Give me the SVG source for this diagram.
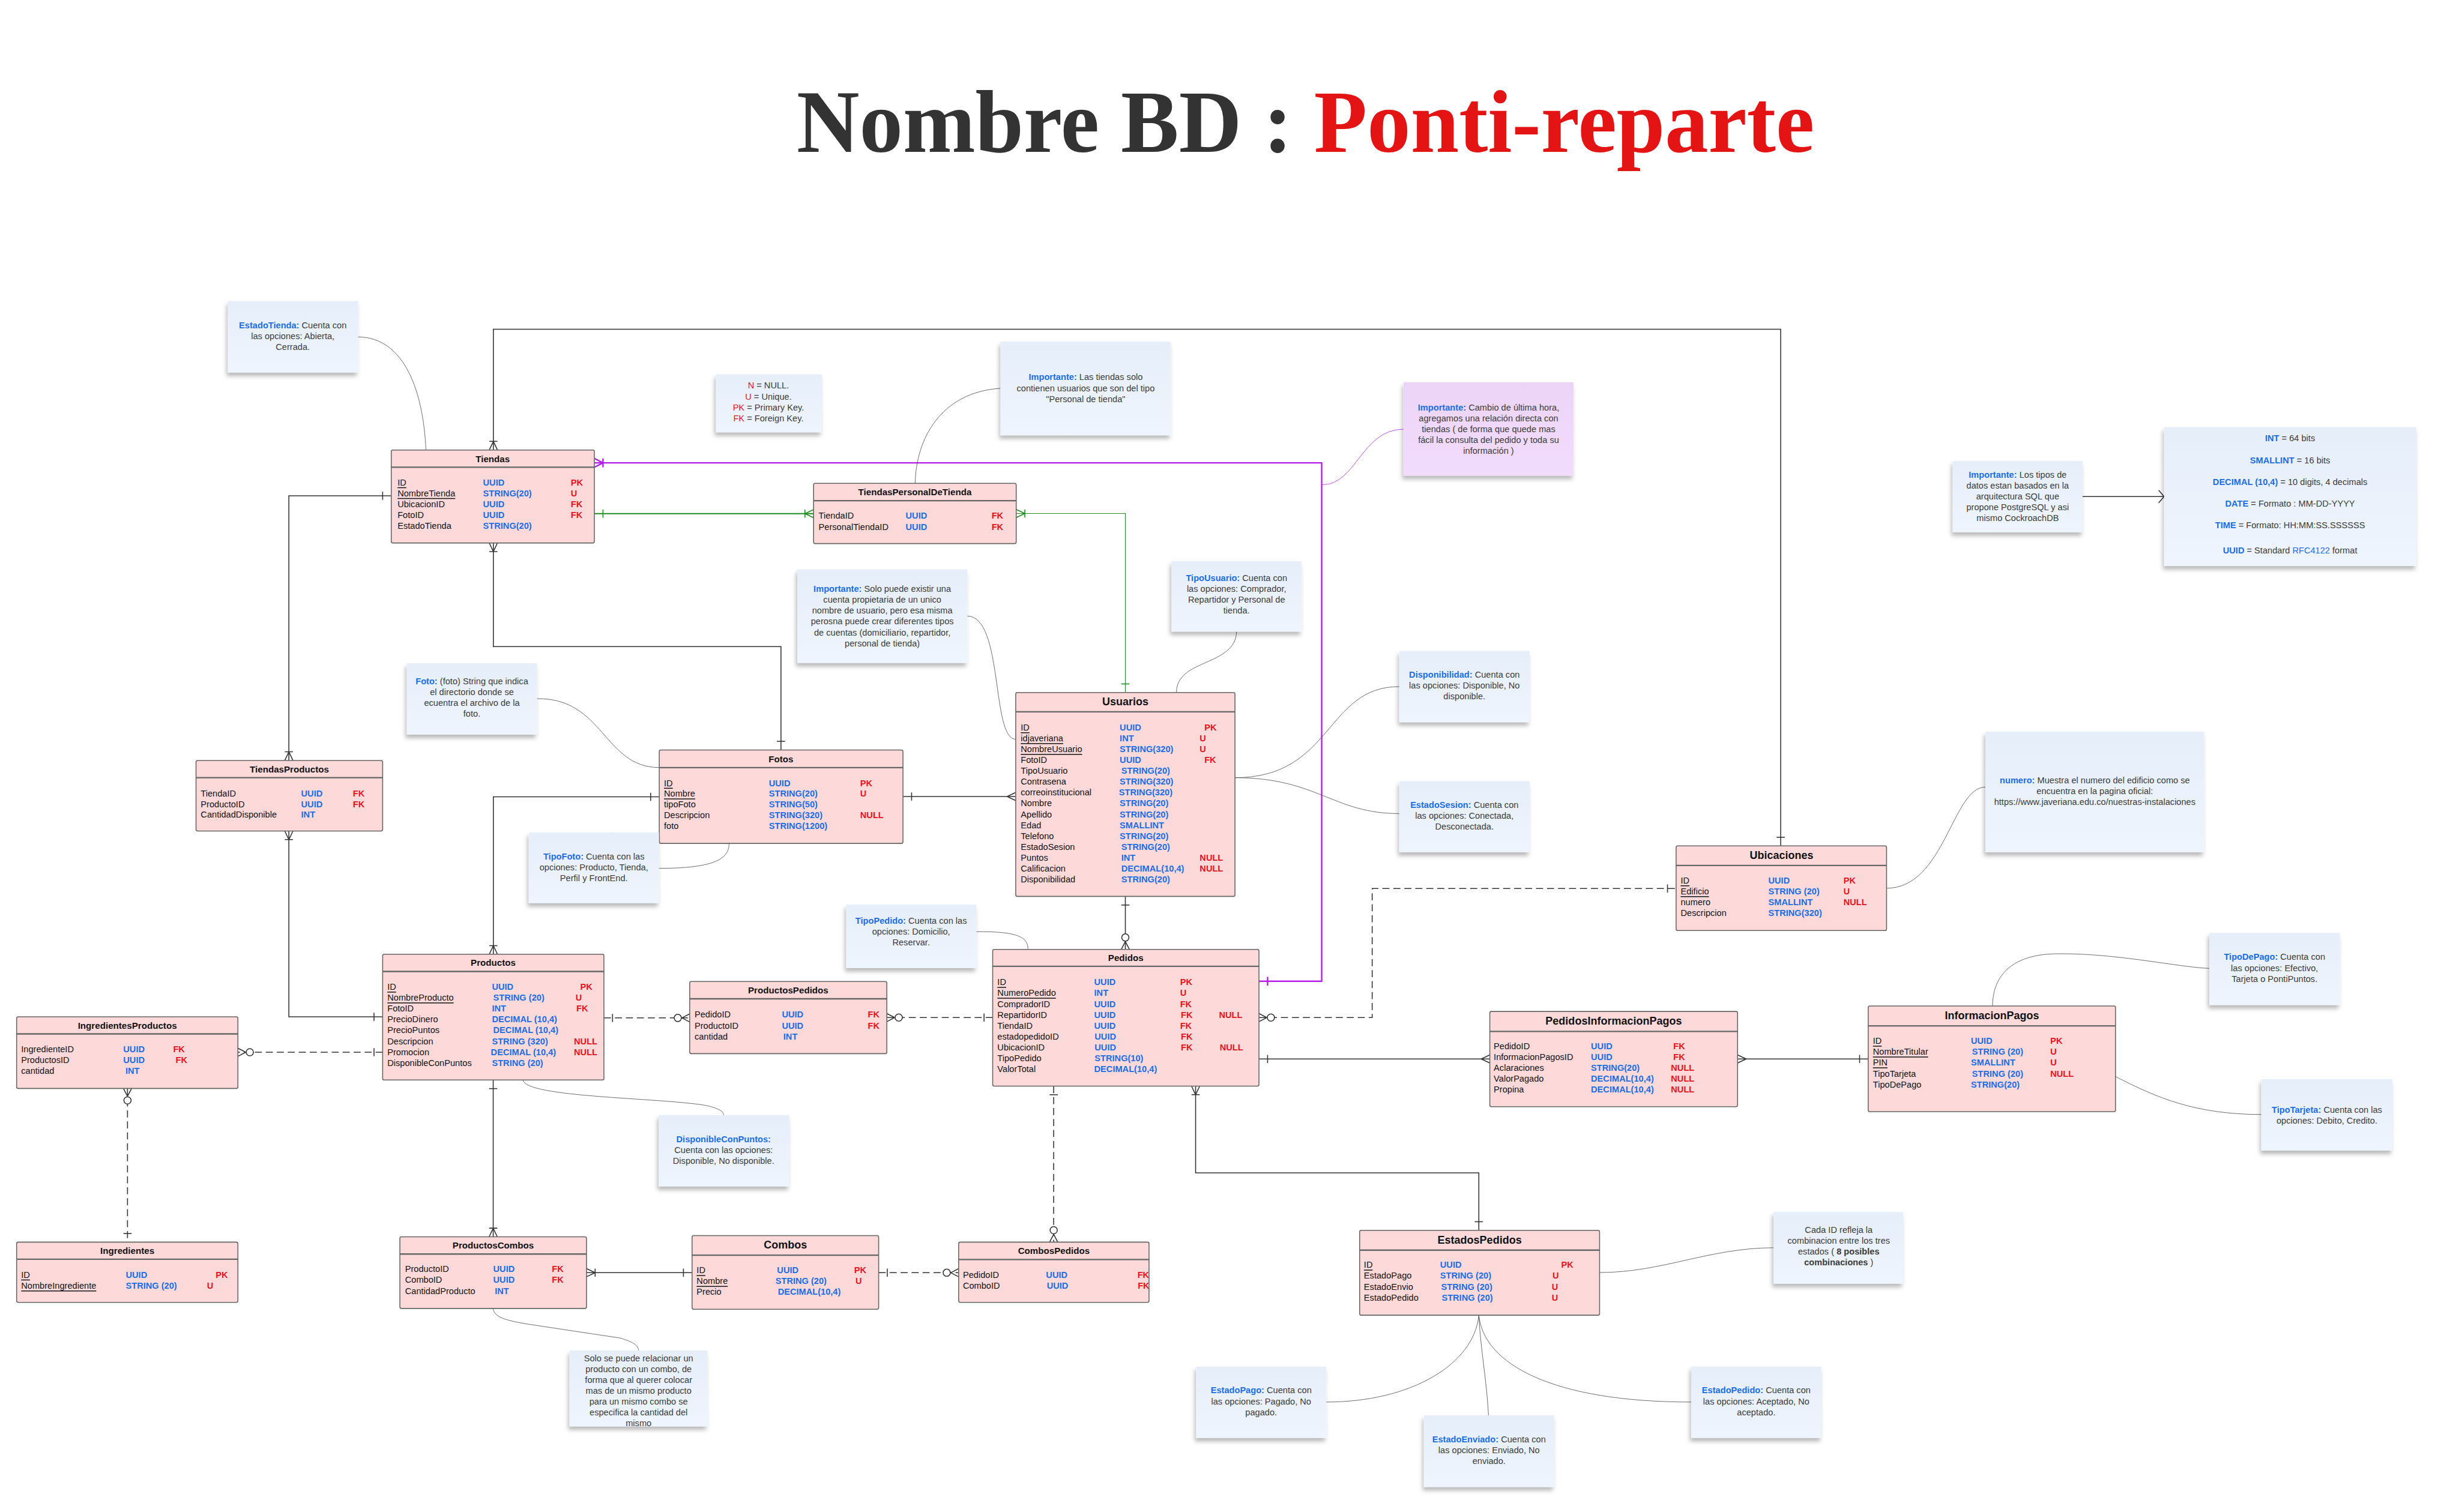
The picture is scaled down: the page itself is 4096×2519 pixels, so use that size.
<svg xmlns="http://www.w3.org/2000/svg" width="4096" height="2519" viewBox="0 0 4096 2519">
<defs>
<style>
text{font-family:"Liberation Sans",Arial,sans-serif}
text.ttl{font-family:"Liberation Serif","Times New Roman",serif;font-weight:bold;font-size:57px}
.e{fill:#fdd9d9;stroke:#666;stroke-width:.6}
.dv{stroke:#666;stroke-width:.9}
.h{font-size:5.8px;font-weight:bold;fill:#111;text-anchor:middle;dominant-baseline:central}
.H{font-size:6.9px}
.f{font-size:5.6px;fill:#111;dominant-baseline:central}
.t{fill:#1a6ee6;font-weight:bold}
.k{fill:#e8131b;font-weight:bold}
.u{text-decoration:underline}
.n{fill:url(#ng);filter:url(#sh)}
.np{fill:url(#pg);filter:url(#sh)}
.nt{font-size:5.6px;fill:#3b3b3b;text-anchor:middle;dominant-baseline:central}
.b{fill:#1a6ee6;font-weight:bold}
.r{fill:#e8131b}
.c{fill:none;stroke:#333;stroke-width:.6}
.d{stroke-dasharray:4.5 2.5}
.cv{fill:none;stroke:#444;stroke-width:.3}
.mk{fill:none;stroke:#333;stroke-width:.6}
.mp{fill:none;stroke:#b51ee8;stroke-width:.9}
.mg{fill:none;stroke:#1e8c1e;stroke-width:.6}
</style>
<linearGradient id="ng" x1="0" y1="0" x2="0" y2="1"><stop offset="0" stop-color="#e6eef9"/><stop offset="1" stop-color="#eef5ff"/></linearGradient>
<linearGradient id="pg" x1="0" y1="0" x2="0" y2="1"><stop offset="0" stop-color="#ecd4f7"/><stop offset="1" stop-color="#f2dcfc"/></linearGradient>
<filter id="sh" x="-20%" y="-20%" width="140%" height="150%"><feDropShadow dx="-0.8" dy="2.2" stdDeviation="1.4" flood-color="#000" flood-opacity=".28"/></filter>
<marker id="oK" markerUnits="userSpaceOnUse" orient="auto-start-reverse" viewBox="-12 -6 14 12" markerWidth="14" markerHeight="12" refX="0" refY="0"><path class="mk" d="M-5.5,-2.6V2.6"/></marker>
<marker id="mK" markerUnits="userSpaceOnUse" orient="auto-start-reverse" viewBox="-12 -6 14 12" markerWidth="14" markerHeight="12" refX="0" refY="0"><path class="mk" d="M-5.5,0L0,-2.6M-5.5,0L0,2.6"/></marker>
<marker id="omK" markerUnits="userSpaceOnUse" orient="auto-start-reverse" viewBox="-12 -6 14 12" markerWidth="14" markerHeight="12" refX="0" refY="0"><path class="mk" d="M-5.5,0L0,-2.6M-5.5,0L0,2.6M-5.5,-2.6V2.6"/></marker>
<marker id="zmK" markerUnits="userSpaceOnUse" orient="auto-start-reverse" viewBox="-12 -6 14 12" markerWidth="14" markerHeight="12" refX="0" refY="0"><path class="mk" d="M-5,0L0,-2.6M-5,0L0,2.6"/><circle cx="-7.6" cy="0" r="2.3" fill="#fff" stroke="#333" stroke-width=".6"/></marker>
<marker id="oP" markerUnits="userSpaceOnUse" orient="auto-start-reverse" viewBox="-12 -6 14 12" markerWidth="14" markerHeight="12" refX="0" refY="0"><path class="mp" d="M-5.5,-2.8V2.8"/></marker>
<marker id="omP" markerUnits="userSpaceOnUse" orient="auto-start-reverse" viewBox="-12 -6 14 12" markerWidth="14" markerHeight="12" refX="0" refY="0"><path class="mp" d="M-5.5,0L0,-2.8M-5.5,0L0,2.8M-5.5,-2.8V2.8"/></marker>
<marker id="oG" markerUnits="userSpaceOnUse" orient="auto-start-reverse" viewBox="-12 -6 14 12" markerWidth="14" markerHeight="12" refX="0" refY="0"><path class="mg" d="M-5.5,-2.6V2.6"/></marker>
<marker id="omG" markerUnits="userSpaceOnUse" orient="auto-start-reverse" viewBox="-12 -6 14 12" markerWidth="14" markerHeight="12" refX="0" refY="0"><path class="mg" d="M-5.5,0L0,-2.6M-5.5,0L0,2.6M-5.5,-2.6V2.6"/></marker>
<marker id="ar" markerUnits="userSpaceOnUse" orient="auto" viewBox="-12 -6 14 12" markerWidth="14" markerHeight="12" refX="0" refY="0"><path class="mk" d="M-3.5,-4L0,0L-3.5,4"/></marker>
</defs>
<rect width="4096" height="2519" fill="#fff"/>
<g transform="scale(2.6122)">

<g id="title"><text class="ttl" x="832.5" y="97" text-anchor="middle" textLength="649" lengthAdjust="spacingAndGlyphs"><tspan fill="#333">Nombre BD : </tspan><tspan fill="#e51414">Ponti-reparte</tspan></text></g>

<g id="connectors">
<path class="c" d="M314.6,287V210H1135.5V539.5" marker-start="url(#omK)" marker-end="url(#oK)"/>
<path d="M379,295.2H842.8V625.8H802.8" fill="none" stroke="#b51ee8" stroke-width=".9" marker-start="url(#omP)" marker-end="url(#oP)"/>
<path d="M379,327.6H518.8" fill="none" stroke="#1e8c1e" stroke-width=".8" marker-start="url(#oG)" marker-end="url(#omG)"/>
<path d="M648,327.5H717.6V441.7" fill="none" stroke="#1e8c1e" stroke-width=".4" marker-start="url(#omG)" marker-end="url(#oG)"/>
<path class="c" d="M249.5,316.2H184.2V485" marker-start="url(#oK)" marker-end="url(#omK)"/>
<path class="c" d="M314.6,346.3V412.4H498V478.3" marker-start="url(#omK)" marker-end="url(#oK)"/>
<path class="c" d="M184.2,530V648.5H244" marker-start="url(#omK)" marker-end="url(#oK)"/>
<path class="c" d="M420.4,508.2H314.6V608.6" marker-start="url(#oK)" marker-end="url(#omK)"/>
<path class="c" d="M575.8,508H647.7" marker-start="url(#oK)" marker-end="url(#mK)"/>
<path class="c" d="M717.6,571.7V605.5" marker-start="url(#oK)" marker-end="url(#zmK)"/>
<path class="c d" d="M244,671.1H151.7" marker-start="url(#oK)" marker-end="url(#zmK)"/>
<path class="c d" d="M81.3,694.2V792.2" marker-start="url(#zmK)" marker-end="url(#oK)"/>
<path class="c d" d="M385.1,649.2H439.8" marker-start="url(#oK)" marker-end="url(#zmK)"/>
<path class="c d" d="M565.5,649H633" marker-start="url(#zmK)" marker-end="url(#oK)"/>
<path class="c" d="M314.5,688.8V788.8" marker-start="url(#oK)" marker-end="url(#omK)"/>
<path class="c" d="M374,811.7H441.3" marker-start="url(#omK)" marker-end="url(#oK)"/>
<path class="c d" d="M560.3,811.7H611.3" marker-start="url(#oK)" marker-end="url(#zmK)"/>
<path class="c d" d="M671.9,692.7V792.2" marker-start="url(#oK)" marker-end="url(#zmK)"/>
<path class="c d" d="M802.8,649H875V566.7H1068.8" marker-start="url(#zmK)" marker-end="url(#oK)"/>
<path class="c" d="M802.8,675.4H950" stroke-width=".8" marker-start="url(#oK)" marker-end="url(#mK)"/>
<path class="c" d="M1108,675.4H1191.3" stroke-width=".8" marker-start="url(#mK)" marker-end="url(#oK)"/>
<path class="c" d="M762.4,692.7V748H943V784.7" marker-start="url(#omK)" marker-end="url(#oK)"/>
<path class="c" d="M1328,316.7H1380" marker-end="url(#ar)"/>
<path class="cv" d="M228.3,214.9C258,215 270,250 271.6,287"/>
<path class="cv" d="M638,247.7C600,250 584,280 583.6,308.3"/>
<path d="M895,273.7C868,274 865,309.2 843,309.2" fill="none" stroke="#b51ee8" stroke-width=".3"/>
<path class="cv" d="M616.8,392.9C640,393 632,471.5 647.7,471.5"/>
<path class="cv" d="M788.5,402.8C788,425 750,420 750.2,441.7"/>
<path class="cv" d="M342.4,445.6C385,445 385,489.5 420.4,489.5"/>
<path class="cv" d="M787.5,496C850,496 845,437.9 892.3,437.9"/>
<path class="cv" d="M787.5,496C840,496 850,518.9 892.3,518.9"/>
<path class="cv" d="M1266,502C1245,502 1240,566.5 1203,566.5"/>
<path class="cv" d="M420.2,553.8C455,553.8 465,548 464.9,537.9"/>
<path class="cv" d="M622.6,594.2C650,594 655.5,598 655.5,605.5"/>
<path class="cv" d="M333.5,688.8C335,700 420,700 450,705C459,707 461.4,709 461.4,711.2"/>
<path class="cv" d="M1408.8,617.6C1390,617 1350,608 1313.4,608.3C1280,608 1270.6,625 1270.6,641.6"/>
<path class="cv" d="M1349,686.6C1375,700 1400,710.8 1442,710.8"/>
<path class="cv" d="M1020,811.6C1060,811.6 1090,795.8 1130.9,795.8"/>
<path class="cv" d="M943,838.8C940,870 900,894.2 845.7,894.2"/>
<path class="cv" d="M943,838.8C944,860 948,880 949.2,902.7"/>
<path class="cv" d="M943,838.8C946,870 990,894.2 1078.4,894.2"/>
<path class="cv" d="M314.5,834.5C315,840 322,842 336,844.4L395.6,853.4C404,856 407,858 407.2,861.3"/>
</g>

<g id="tiendas">
<rect class="e" x="249.5" y="287" width="129.5" height="59.3" rx="1"/>
<line class="dv" x1="249.5" y1="298" x2="379" y2="298"/>
<text class="h" x="314.2" y="292.5">Tiendas</text>
<text class="f u" x="253.5" y="307.7">ID</text><text class="f t" x="308" y="307.7">UUID</text><text class="f k" x="364" y="307.7">PK</text>
<text class="f u" x="253.5" y="314.6">NombreTienda</text><text class="f t" x="308" y="314.6">STRING(20)</text><text class="f k" x="364" y="314.6">U</text>
<text class="f" x="253.5" y="321.5">UbicacionID</text><text class="f t" x="308" y="321.5">UUID</text><text class="f k" x="364" y="321.5">FK</text>
<text class="f" x="253.5" y="328.4">FotoID</text><text class="f t" x="308" y="328.4">UUID</text><text class="f k" x="364" y="328.4">FK</text>
<text class="f" x="253.5" y="335.3">EstadoTienda</text><text class="f t" x="308" y="335.3">STRING(20)</text>
</g>

<g id="tiendaspersonaldetienda">
<rect class="e" x="518.8" y="308.3" width="129.2" height="38.4" rx="1"/>
<line class="dv" x1="518.8" y1="319.3" x2="648" y2="319.3"/>
<text class="h" x="583.4" y="313.6">TiendasPersonalDeTienda</text>
<text class="f" x="522" y="329">TiendaID</text><text class="f t" x="577.5" y="329">UUID</text><text class="f k" x="632.3" y="329">FK</text>
<text class="f" x="522" y="336">PersonalTiendaID</text><text class="f t" x="577.5" y="336">UUID</text><text class="f k" x="632.3" y="336">FK</text>
</g>

<g id="usuarios">
<rect class="e" x="647.7" y="441.7" width="139.8" height="130" rx="1"/>
<line class="dv" x1="647.7" y1="454" x2="787.5" y2="454"/>
<text class="h H" x="717.6" y="447.6">Usuarios</text>
<text class="f u" x="650.9" y="464">ID</text><text class="f t" x="714" y="464">UUID</text><text class="f k" x="768" y="464">PK</text>
<text class="f u" x="650.9" y="470.9">idjaveriana</text><text class="f t" x="714" y="470.9">INT</text><text class="f k" x="765" y="470.9">U</text>
<text class="f u" x="650.9" y="477.8">NombreUsuario</text><text class="f t" x="714" y="477.8">STRING(320)</text><text class="f k" x="765" y="477.8">U</text>
<text class="f" x="650.9" y="484.8">FotoID</text><text class="f t" x="714" y="484.8">UUID</text><text class="f k" x="768" y="484.8">FK</text>
<text class="f" x="650.9" y="491.7">TipoUsuario</text><text class="f t" x="715" y="491.7">STRING(20)</text>
<text class="f" x="650.9" y="498.6">Contrasena</text><text class="f t" x="714" y="498.6">STRING(320)</text>
<text class="f" x="650.9" y="505.5">correoinstitucional</text><text class="f t" x="713.5" y="505.5">STRING(320)</text>
<text class="f" x="650.9" y="512.4">Nombre</text><text class="f t" x="714" y="512.4">STRING(20)</text>
<text class="f" x="650.9" y="519.4">Apellido</text><text class="f t" x="714" y="519.4">STRING(20)</text>
<text class="f" x="650.9" y="526.3">Edad</text><text class="f t" x="714" y="526.3">SMALLINT</text>
<text class="f" x="650.9" y="533.2">Telefono</text><text class="f t" x="714" y="533.2">STRING(20)</text>
<text class="f" x="650.9" y="540.1">EstadoSesion</text><text class="f t" x="715" y="540.1">STRING(20)</text>
<text class="f" x="650.9" y="547">Puntos</text><text class="f t" x="715" y="547">INT</text><text class="f k" x="765" y="547">NULL</text>
<text class="f" x="650.9" y="554">Calificacion</text><text class="f t" x="715" y="554">DECIMAL(10,4)</text><text class="f k" x="765" y="554">NULL</text>
<text class="f" x="650.9" y="560.9">Disponibilidad</text><text class="f t" x="715" y="560.9">STRING(20)</text>
</g>

<g id="fotos">
<rect class="e" x="420.4" y="478.3" width="155.4" height="59.6" rx="1"/>
<line class="dv" x1="420.4" y1="489.6" x2="575.8" y2="489.6"/>
<text class="h" x="498" y="483.9">Fotos</text>
<text class="f u" x="423.4" y="499.4">ID</text><text class="f t" x="490.3" y="499.4">UUID</text><text class="f k" x="548.5" y="499.4">PK</text>
<text class="f u" x="423.4" y="506.2">Nombre</text><text class="f t" x="490.3" y="506.2">STRING(20)</text><text class="f k" x="548.5" y="506.2">U</text>
<text class="f" x="423.4" y="513">tipoFoto</text><text class="f t" x="490.3" y="513">STRING(50)</text>
<text class="f" x="423.4" y="519.9">Descripcion</text><text class="f t" x="490.3" y="519.9">STRING(320)</text><text class="f k" x="548.5" y="519.9">NULL</text>
<text class="f" x="423.4" y="526.8">foto</text><text class="f t" x="490.3" y="526.8">STRING(1200)</text>
</g>

<g id="tiendasproductos">
<rect class="e" x="125" y="485" width="119" height="45" rx="1"/>
<line class="dv" x1="125" y1="496" x2="244" y2="496"/>
<text class="h" x="184.5" y="490.5">TiendasProductos</text>
<text class="f" x="128" y="506">TiendaID</text><text class="f t" x="192" y="506">UUID</text><text class="f k" x="225" y="506">FK</text>
<text class="f" x="128" y="512.8">ProductoID</text><text class="f t" x="192" y="512.8">UUID</text><text class="f k" x="225" y="512.8">FK</text>
<text class="f" x="128" y="519.6">CantidadDisponible</text><text class="f t" x="192" y="519.6">INT</text>
</g>

<g id="ubicaciones">
<rect class="e" x="1068.8" y="539.5" width="134.2" height="54" rx="1"/>
<line class="dv" x1="1068.8" y1="552" x2="1203" y2="552"/>
<text class="h H" x="1136" y="545.6">Ubicaciones</text>
<text class="f u" x="1071.7" y="561.6">ID</text><text class="f t" x="1127.6" y="561.6">UUID</text><text class="f k" x="1175.5" y="561.6">PK</text>
<text class="f u" x="1071.7" y="568.5">Edificio</text><text class="f t" x="1127.6" y="568.5">STRING (20)</text><text class="f k" x="1175.5" y="568.5">U</text>
<text class="f" x="1071.7" y="575.5">numero</text><text class="f t" x="1127.6" y="575.5">SMALLINT</text><text class="f k" x="1175.5" y="575.5">NULL</text>
<text class="f" x="1071.7" y="582.4">Descripcion</text><text class="f t" x="1127.6" y="582.4">STRING(320)</text>
</g>

<g id="productos">
<rect class="e" x="244" y="608.6" width="141.1" height="80.2" rx="1"/>
<line class="dv" x1="244" y1="619.6" x2="385.1" y2="619.6"/>
<text class="h" x="314.5" y="614">Productos</text>
<text class="f u" x="247" y="629.4">ID</text><text class="f t" x="313.7" y="629.4">UUID</text><text class="f k" x="370" y="629.4">PK</text>
<text class="f u" x="247" y="636.3">NombreProducto</text><text class="f t" x="314.5" y="636.3">STRING (20)</text><text class="f k" x="367" y="636.3">U</text>
<text class="f" x="247" y="643.3">FotoID</text><text class="f t" x="313.7" y="643.3">INT</text><text class="f k" x="367.5" y="643.3">FK</text>
<text class="f" x="247" y="650.2">PrecioDinero</text><text class="f t" x="313.7" y="650.2">DECIMAL (10,4)</text>
<text class="f" x="247" y="657.1">PrecioPuntos</text><text class="f t" x="314.5" y="657.1">DECIMAL (10,4)</text>
<text class="f" x="247" y="664.1">Descripcion</text><text class="f t" x="313.7" y="664.1">STRING (320)</text><text class="f k" x="366" y="664.1">NULL</text>
<text class="f" x="247" y="671">Promocion</text><text class="f t" x="313" y="671">DECIMAL (10,4)</text><text class="f k" x="366" y="671">NULL</text>
<text class="f" x="247" y="677.9">DisponibleConPuntos</text><text class="f t" x="313.7" y="677.9">STRING (20)</text>
</g>

<g id="ingredientesproductos">
<rect class="e" x="10.6" y="648.5" width="141.1" height="45.7" rx="1"/>
<line class="dv" x1="10.6" y1="659.4" x2="151.7" y2="659.4"/>
<text class="h" x="81.2" y="653.9">IngredientesProductos</text>
<text class="f" x="13.5" y="669">IngredienteID</text><text class="f t" x="78.6" y="669">UUID</text><text class="f k" x="110.4" y="669">FK</text>
<text class="f" x="13.5" y="676">ProductosID</text><text class="f t" x="78.6" y="676">UUID</text><text class="f k" x="112" y="676">FK</text>
<text class="f" x="13.5" y="682.9">cantidad</text><text class="f t" x="80" y="682.9">INT</text>
</g>

<g id="ingredientes">
<rect class="e" x="10.6" y="792.2" width="141.1" height="38.4" rx="1"/>
<line class="dv" x1="10.6" y1="803.1" x2="151.7" y2="803.1"/>
<text class="h" x="81.2" y="797.6">Ingredientes</text>
<text class="f u" x="13.5" y="813">ID</text><text class="f t" x="80.2" y="813">UUID</text><text class="f k" x="137.5" y="813">PK</text>
<text class="f u" x="13.5" y="820">NombreIngrediente</text><text class="f t" x="80.2" y="820">STRING (20)</text><text class="f k" x="132" y="820">U</text>
</g>

<g id="productospedidos">
<rect class="e" x="439.8" y="626" width="125.7" height="46" rx="1"/>
<line class="dv" x1="439.8" y1="637" x2="565.5" y2="637"/>
<text class="h" x="502.6" y="631.4">ProductosPedidos</text>
<text class="f" x="442.9" y="647.1">PedidoID</text><text class="f t" x="498.6" y="647.1">UUID</text><text class="f k" x="553.4" y="647.1">FK</text>
<text class="f" x="442.9" y="654.1">ProductoID</text><text class="f t" x="498.6" y="654.1">UUID</text><text class="f k" x="553.4" y="654.1">FK</text>
<text class="f" x="442.9" y="661">cantidad</text><text class="f t" x="499.5" y="661">INT</text>
</g>

<g id="pedidos">
<rect class="e" x="633" y="605.5" width="169.8" height="87.2" rx="1"/>
<line class="dv" x1="633" y1="616.3" x2="802.8" y2="616.3"/>
<text class="h" x="717.9" y="610.8">Pedidos</text>
<text class="f u" x="636" y="626.4">ID</text><text class="f t" x="697.7" y="626.4">UUID</text><text class="f k" x="752.5" y="626.4">PK</text>
<text class="f u" x="636" y="633.3">NumeroPedido</text><text class="f t" x="697.7" y="633.3">INT</text><text class="f k" x="752.5" y="633.3">U</text>
<text class="f" x="636" y="640.3">CompradorID</text><text class="f t" x="697.7" y="640.3">UUID</text><text class="f k" x="752.5" y="640.3">FK</text>
<text class="f" x="636" y="647.2">RepartidorID</text><text class="f t" x="697.7" y="647.2">UUID</text><text class="f k" x="753" y="647.2">FK</text><text class="f k" x="777.3" y="647.2">NULL</text>
<text class="f" x="636" y="654.1">TiendaID</text><text class="f t" x="697.7" y="654.1">UUID</text><text class="f k" x="752.5" y="654.1">FK</text>
<text class="f" x="636" y="661.1">estadopedidoID</text><text class="f t" x="698" y="661.1">UUID</text><text class="f k" x="753" y="661.1">FK</text>
<text class="f" x="636" y="668">UbicacionID</text><text class="f t" x="698" y="668">UUID</text><text class="f k" x="753" y="668">FK</text><text class="f k" x="777.8" y="668">NULL</text>
<text class="f" x="636" y="674.9">TipoPedido</text><text class="f t" x="698" y="674.9">STRING(10)</text>
<text class="f" x="636" y="681.8">ValorTotal</text><text class="f t" x="697.7" y="681.8">DECIMAL(10,4)</text>
</g>

<g id="pedidosinformacionpagos">
<rect class="e" x="950" y="645.1" width="158" height="60.7" rx="1"/>
<line class="dv" x1="950" y1="657.8" x2="1108" y2="657.8"/>
<text class="h H" x="1029" y="651.2">PedidosInformacionPagos</text>
<text class="f" x="952.5" y="667.4">PedidoID</text><text class="f t" x="1014.5" y="667.4">UUID</text><text class="f k" x="1067" y="667.4">FK</text>
<text class="f" x="952.5" y="674.3">InformacionPagosID</text><text class="f t" x="1014.5" y="674.3">UUID</text><text class="f k" x="1067" y="674.3">FK</text>
<text class="f" x="952.5" y="681.2">Aclaraciones</text><text class="f t" x="1014.5" y="681.2">STRING(20)</text><text class="f k" x="1065.5" y="681.2">NULL</text>
<text class="f" x="952.5" y="688.1">ValorPagado</text><text class="f t" x="1014.5" y="688.1">DECIMAL(10,4)</text><text class="f k" x="1065.5" y="688.1">NULL</text>
<text class="f" x="952.5" y="695">Propina</text><text class="f t" x="1014.5" y="695">DECIMAL(10,4)</text><text class="f k" x="1065.5" y="695">NULL</text>
</g>

<g id="informacionpagos">
<rect class="e" x="1191.3" y="641.6" width="157.7" height="67.4" rx="1"/>
<line class="dv" x1="1191.3" y1="654.3" x2="1349" y2="654.3"/>
<text class="h H" x="1270.2" y="647.9">InformacionPagos</text>
<text class="f u" x="1194.3" y="663.9">ID</text><text class="f t" x="1256.8" y="663.9">UUID</text><text class="f k" x="1307.4" y="663.9">PK</text>
<text class="f u" x="1194.3" y="670.8">NombreTitular</text><text class="f t" x="1257.5" y="670.8">STRING (20)</text><text class="f k" x="1307.4" y="670.8">U</text>
<text class="f u" x="1194.3" y="677.7">PIN</text><text class="f t" x="1256.8" y="677.7">SMALLINT</text><text class="f k" x="1307.4" y="677.7">U</text>
<text class="f" x="1194.3" y="684.7">TipoTarjeta</text><text class="f t" x="1257.5" y="684.7">STRING (20)</text><text class="f k" x="1307.4" y="684.7">NULL</text>
<text class="f" x="1194.3" y="691.6">TipoDePago</text><text class="f t" x="1256.8" y="691.6">STRING(20)</text>
</g>

<g id="productoscombos">
<rect class="e" x="255" y="788.8" width="119" height="45.7" rx="1"/>
<line class="dv" x1="255" y1="799.8" x2="374" y2="799.8"/>
<text class="h" x="314.5" y="794.2">ProductosCombos</text>
<text class="f" x="258.3" y="809.4">ProductoID</text><text class="f t" x="314.5" y="809.4">UUID</text><text class="f k" x="351.9" y="809.4">FK</text>
<text class="f" x="258.3" y="816.3">ComboID</text><text class="f t" x="314.5" y="816.3">UUID</text><text class="f k" x="351.9" y="816.3">FK</text>
<text class="f" x="258.3" y="823.4">CantidadProducto</text><text class="f t" x="315.5" y="823.4">INT</text>
</g>

<g id="combos">
<rect class="e" x="441.3" y="788" width="119" height="47" rx="1"/>
<line class="dv" x1="441.3" y1="800.5" x2="560.3" y2="800.5"/>
<text class="h H" x="500.8" y="794">Combos</text>
<text class="f u" x="444.2" y="810.2">ID</text><text class="f t" x="495.5" y="810.2">UUID</text><text class="f k" x="544.7" y="810.2">PK</text>
<text class="f u" x="444.2" y="817.1">Nombre</text><text class="f t" x="494.5" y="817.1">STRING (20)</text><text class="f k" x="545.5" y="817.1">U</text>
<text class="f" x="444.2" y="824">Precio</text><text class="f t" x="496" y="824">DECIMAL(10,4)</text>
</g>

<g id="combospedidos">
<rect class="e" x="611.3" y="792.2" width="121.4" height="38.4" rx="1"/>
<line class="dv" x1="611.3" y1="803.3" x2="732.7" y2="803.3"/>
<text class="h" x="672" y="797.6">CombosPedidos</text>
<text class="f" x="614" y="813">PedidoID</text><text class="f t" x="667" y="813">UUID</text><text class="f k" x="725.3" y="813">FK</text>
<text class="f" x="614" y="820">ComboID</text><text class="f t" x="667.5" y="820">UUID</text><text class="f k" x="725.5" y="820">FK</text>
</g>

<g id="estadospedidos">
<rect class="e" x="867" y="784.7" width="153" height="54.1" rx="1"/>
<line class="dv" x1="867" y1="797.3" x2="1020" y2="797.3"/>
<text class="h H" x="943.5" y="790.8">EstadosPedidos</text>
<text class="f u" x="869.7" y="806.7">ID</text><text class="f t" x="918.3" y="806.7">UUID</text><text class="f k" x="995.5" y="806.7">PK</text>
<text class="f" x="869.7" y="813.6">EstadoPago</text><text class="f t" x="918.3" y="813.6">STRING (20)</text><text class="f k" x="990" y="813.6">U</text>
<text class="f" x="869.7" y="820.6">EstadoEnvio</text><text class="f t" x="919" y="820.6">STRING (20)</text><text class="f k" x="989.5" y="820.6">U</text>
<text class="f" x="869.7" y="827.5">EstadoPedido</text><text class="f t" x="919.3" y="827.5">STRING (20)</text><text class="f k" x="989.5" y="827.5">U</text>
</g>

<g id="note-estadotienda"><rect class="n" x="145.3" y="192" width="83" height="45.6"/>
<text class="nt"><tspan x="186.7" y="207.5"><tspan class="b">EstadoTienda:</tspan> Cuenta con</tspan><tspan x="186.7" y="214.3">las opciones: Abierta,</tspan><tspan x="186.7" y="221.2">Cerrada.</tspan></text></g>

<g id="note-leyenda"><rect class="n" x="456.5" y="238.7" width="67.5" height="37"/>
<text class="nt"><tspan x="490" y="245.9"><tspan class="r">N</tspan> = NULL.</tspan><tspan x="490" y="252.9"><tspan class="r">U</tspan> = Unique.</tspan><tspan x="490" y="259.8"><tspan class="r">PK</tspan> = Primary Key.</tspan><tspan x="490" y="266.7"><tspan class="r">FK</tspan> = Foreign Key.</tspan></text></g>

<g id="note-tiendas-personal"><rect class="n" x="638" y="217.9" width="108.6" height="59.7"/>
<text class="nt"><tspan x="692.3" y="240.6"><tspan class="b">Importante:</tspan> Las tiendas solo</tspan><tspan x="692.3" y="247.6">contienen usuarios que son del tipo</tspan><tspan x="692.3" y="254.4">"Personal de tienda"</tspan></text></g>

<g id="note-cambio"><rect class="np" x="895" y="243.8" width="108.4" height="59.6"/>
<text class="nt"><tspan x="949.2" y="259.9"><tspan class="b">Importante:</tspan> Cambio de última hora,</tspan><tspan x="949.2" y="266.8">agregamos una relación directa con</tspan><tspan x="949.2" y="273.7">tiendas ( de forma que quede mas</tspan><tspan x="949.2" y="280.6">fácil la consulta del pedido y toda su</tspan><tspan x="949.2" y="287.4">información )</tspan></text></g>

<g id="note-tipos-datos"><rect class="n" x="1245.2" y="294" width="82.8" height="45.5"/>
<text class="nt"><tspan x="1286.6" y="302.8"><tspan class="b">Importante:</tspan> Los tipos de</tspan><tspan x="1286.6" y="309.7">datos estan basados en la</tspan><tspan x="1286.6" y="316.6">arquitectura SQL que</tspan><tspan x="1286.6" y="323.6">propone PostgreSQL y asi</tspan><tspan x="1286.6" y="330.5">mismo CockroachDB</tspan></text></g>

<g id="note-formatos"><rect class="n" x="1380" y="272.4" width="160.8" height="88.6"/>
<text class="nt"><tspan x="1460.3" y="279.6"><tspan class="b">INT</tspan> = 64 bits</tspan><tspan x="1460.3" y="293.6"><tspan class="b">SMALLINT</tspan> = 16 bits</tspan><tspan x="1460.3" y="307.4"><tspan class="b">DECIMAL (10,4)</tspan> = 10 digits, 4 decimals</tspan><tspan x="1460.3" y="321.2"><tspan class="b">DATE</tspan> = Formato : MM-DD-YYYY</tspan><tspan x="1460.3" y="335.1"><tspan class="b">TIME</tspan> = Formato: HH:MM:SS.SSSSSS</tspan><tspan x="1460.3" y="351.2"><tspan class="b">UUID</tspan> = Standard <tspan fill="#1a6ee6">RFC4122</tspan> format</tspan></text></g>

<g id="note-cuenta"><rect class="n" x="508.4" y="363.1" width="108.4" height="59.7"/>
<text class="nt"><tspan x="562.6" y="375.6"><tspan class="b">Importante:</tspan> Solo puede existir una</tspan><tspan x="562.6" y="382.6">cuenta propietaria de un unico</tspan><tspan x="562.6" y="389.5">nombre de usuario, pero esa misma</tspan><tspan x="562.6" y="396.4">perosna puede crear diferentes tipos</tspan><tspan x="562.6" y="403.3">de cuentas (domiciliario, repartidor,</tspan><tspan x="562.6" y="410.2">personal de tienda)</tspan></text></g>

<g id="note-tipousuario"><rect class="n" x="747" y="358" width="83" height="44.8"/>
<text class="nt"><tspan x="788.5" y="368.6"><tspan class="b">TipoUsuario:</tspan> Cuenta con</tspan><tspan x="788.5" y="375.5">las opciones: Comprador,</tspan><tspan x="788.5" y="382.4">Repartidor y Personal de</tspan><tspan x="788.5" y="389.3">tienda.</tspan></text></g>

<g id="note-foto"><rect class="n" x="259.4" y="423" width="83" height="45.5"/>
<text class="nt"><tspan x="300.9" y="434.4"><tspan class="b">Foto:</tspan> (foto) String que indica</tspan><tspan x="300.9" y="441.3">el directorio donde se</tspan><tspan x="300.9" y="448.2">ecuentra el archivo de la</tspan><tspan x="300.9" y="455.1">foto.</tspan></text></g>

<g id="note-disponibilidad"><rect class="n" x="892.3" y="415.2" width="83" height="45.4"/>
<text class="nt"><tspan x="933.8" y="430.3"><tspan class="b">Disponibilidad:</tspan> Cuenta con</tspan><tspan x="933.8" y="437.3">las opciones: Disponible, No</tspan><tspan x="933.8" y="444.2">disponible.</tspan></text></g>

<g id="note-estadosesion"><rect class="n" x="892.3" y="498.2" width="83" height="45.4"/>
<text class="nt"><tspan x="933.8" y="513.4"><tspan class="b">EstadoSesion:</tspan> Cuenta con</tspan><tspan x="933.8" y="520.3">las opciones: Conectada,</tspan><tspan x="933.8" y="527.2">Desconectada.</tspan></text></g>

<g id="note-numero"><rect class="n" x="1266" y="466.7" width="139.5" height="76.9"/>
<text class="nt"><tspan x="1335.8" y="497.7"><tspan class="b">numero:</tspan> Muestra el numero del edificio como se</tspan><tspan x="1335.8" y="504.6">encuentra en la pagina oficial:</tspan><tspan x="1335.8" y="511.4">https://www.javeriana.edu.co/nuestras-instalaciones</tspan></text></g>

<g id="note-tipofoto"><rect class="n" x="337.2" y="531" width="83" height="45"/>
<text class="nt"><tspan x="378.7" y="546.3"><tspan class="b">TipoFoto:</tspan> Cuenta con las</tspan><tspan x="378.7" y="553.2">opciones: Producto, Tienda,</tspan><tspan x="378.7" y="560.1">Perfil y FrontEnd.</tspan></text></g>

<g id="note-tipopedido"><rect class="n" x="539.6" y="577" width="83" height="40.4"/>
<text class="nt"><tspan x="581" y="587.1"><tspan class="b">TipoPedido:</tspan> Cuenta con las</tspan><tspan x="581" y="594">opciones: Domicilio,</tspan><tspan x="581" y="601">Reservar.</tspan></text></g>

<g id="note-disponibleconpuntos"><rect class="n" x="420" y="711.2" width="83.3" height="45.5"/>
<text class="nt"><tspan x="461.4" y="726.7" class="b">DisponibleConPuntos:</tspan><tspan x="461.4" y="733.6">Cuenta con las opciones:</tspan><tspan x="461.4" y="740.5">Disponible, No disponible.</tspan></text></g>

<g id="note-tipodepago"><rect class="n" x="1408.8" y="595" width="83.2" height="46"/>
<text class="nt"><tspan x="1450.4" y="610.4"><tspan class="b">TipoDePago:</tspan> Cuenta con</tspan><tspan x="1450.4" y="617.4">las opciones: Efectivo,</tspan><tspan x="1450.4" y="624.3">Tarjeta o PontiPuntos.</tspan></text></g>

<g id="note-tipotarjeta"><rect class="n" x="1442" y="688.3" width="83.5" height="45.5"/>
<text class="nt"><tspan x="1483.8" y="707.7"><tspan class="b">TipoTarjeta:</tspan> Cuenta con las</tspan><tspan x="1483.8" y="714.7">opciones: Debito, Credito.</tspan></text></g>

<g id="note-cadaid"><rect class="n" x="1130.9" y="773" width="82.6" height="45.7"/>
<text class="nt"><tspan x="1172.5" y="784.4">Cada ID refleja la</tspan><tspan x="1172.5" y="791.3">combinacion entre los tres</tspan><tspan x="1172.5" y="798.2">estados ( <tspan font-weight="bold">8 posibles</tspan></tspan><tspan x="1172.5" y="805.2"><tspan font-weight="bold">combinaciones</tspan> )</tspan></text></g>

<g id="note-estadopago"><rect class="n" x="762.7" y="871.6" width="83" height="45.5"/>
<text class="nt"><tspan x="804.2" y="886.8"><tspan class="b">EstadoPago:</tspan> Cuenta con</tspan><tspan x="804.2" y="893.8">las opciones: Pagado, No</tspan><tspan x="804.2" y="900.7">pagado.</tspan></text></g>

<g id="note-estadoenviado"><rect class="n" x="908" y="902.7" width="83" height="45.7"/>
<text class="nt"><tspan x="949.5" y="918"><tspan class="b">EstadoEnviado:</tspan> Cuenta con</tspan><tspan x="949.5" y="925">las opciones: Enviado, No</tspan><tspan x="949.5" y="931.9">enviado.</tspan></text></g>

<g id="note-estadopedido"><rect class="n" x="1078.4" y="871.6" width="83" height="45.5"/>
<text class="nt"><tspan x="1119.9" y="886.8"><tspan class="b">EstadoPedido:</tspan> Cuenta con</tspan><tspan x="1119.9" y="893.8">las opciones: Aceptado, No</tspan><tspan x="1119.9" y="900.7">aceptado.</tspan></text></g>

<g id="note-productoscombos"><rect class="n" x="363.2" y="861.3" width="87.9" height="48.4"/>
<text class="nt"><tspan x="407.2" y="866.4">Solo se puede relacionar un</tspan><tspan x="407.2" y="873.3">producto con un combo, de</tspan><tspan x="407.2" y="880.2">forma que al querer colocar</tspan><tspan x="407.2" y="887.1">mas de un mismo producto</tspan><tspan x="407.2" y="894">para un mismo combo se</tspan><tspan x="407.2" y="900.8">especifica la cantidad del</tspan><tspan x="407.2" y="907.6">mismo</tspan></text></g>

</g>
</svg>
